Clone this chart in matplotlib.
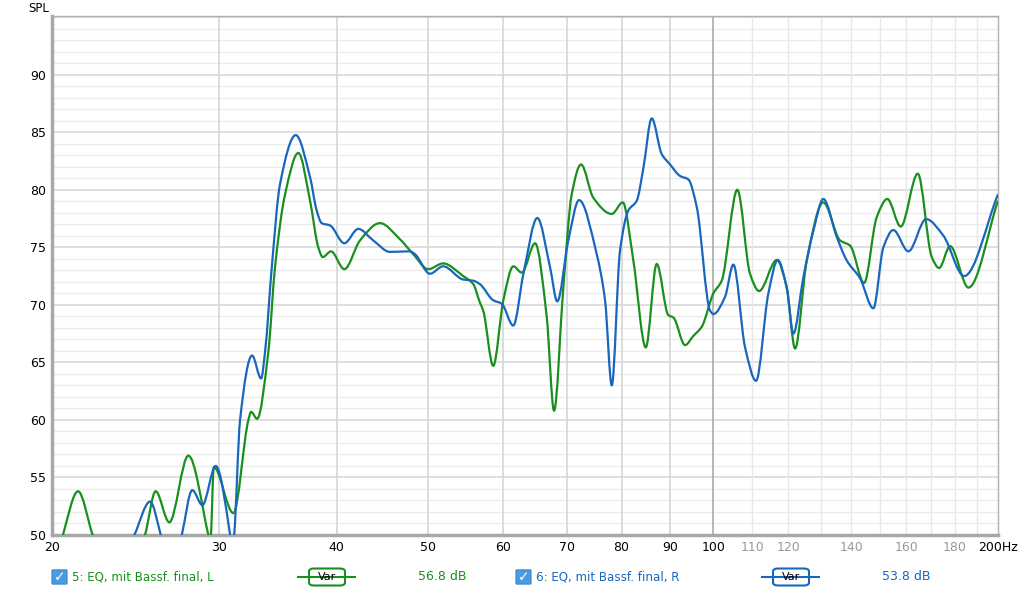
import numpy as np
import matplotlib.pyplot as plt
from matplotlib.patches import FancyBboxPatch, PathPatch
from matplotlib.path import Path

freq_l = [20.0, 20.54, 21.31, 22.08, 23.5, 25.08, 25.74, 26.61, 27.87, 29.26, 29.35,
          29.44, 29.65, 31.10, 32.26, 32.47, 32.95, 33.87, 34.42, 35.27, 36.43, 37.48,
          38.24, 38.66, 39.44, 40.74, 42.33, 44.43, 46.65, 48.19, 49.97, 51.82, 54.42,
          55.76, 56.67, 57.13, 58.54, 60.0, 61.47, 62.75, 64.82, 66.67, 67.88, 69.43,
          70.86, 72.49, 74.69, 78.12, 80.24, 82.33, 84.86, 87.15, 89.66, 90.76, 93.37,
          95.28, 97.25, 100.04, 102.09, 106.05, 109.37, 111.81, 116.74, 119.59, 122.04,
          125.57, 130.73, 136.17, 139.54, 144.37, 148.85, 152.78, 157.83, 164.52,
          170.23, 173.29, 177.99, 186.09, 200.0]
spl_l = [46.0, 50.0, 53.8, 50.0, 44.0, 50.0, 53.8, 51.1, 56.9, 50.0, 49.5,
         50.0, 55.9, 51.9, 60.0, 60.7, 60.1, 66.0, 73.3, 79.6, 83.2, 79.05,
         75.0, 74.15, 74.65, 73.1, 75.6, 77.1, 75.7, 74.4, 73.1, 73.6, 72.5,
         71.8, 70.2, 69.5, 64.7, 70.4, 73.35, 72.8, 75.35, 69.0, 60.8, 71.5,
         79.6, 82.2, 79.3, 77.9, 78.9, 73.85, 66.3, 73.55, 69.1, 68.9, 66.5,
         67.3, 68.1, 71.0, 72.1, 80.0, 72.7, 71.2, 73.9, 71.5, 66.2,
         73.85, 78.9, 75.6, 75.15, 71.9, 77.6, 79.2, 76.8, 81.4,
         74.15, 73.2, 75.1, 71.5, 79.05]

# measurement R (blue)
freq_r = [20.0, 22.5, 24.44, 25.39, 26.06, 26.7, 27.43, 28.14, 28.84, 29.79, 30.85,
          31.0, 31.16, 31.61, 32.55, 33.27, 33.60, 34.15, 34.84, 36.20, 37.48, 38.09,
          38.56, 39.35, 40.74, 42.15, 43.71, 45.53, 47.80, 48.39, 50.18, 51.82, 54.42,
          55.76, 56.67, 58.54, 59.76, 61.47, 63.0, 65.17, 67.21, 68.41, 70.28, 72.14,
          75.31, 76.85, 78.12, 79.70, 81.34, 83.02, 84.37, 86.10, 88.22, 90.03, 92.24,
          94.12, 96.07, 99.24, 100.04, 102.92, 105.03, 108.06, 110.99, 114.37, 117.01,
          119.59, 121.53, 124.53, 127.61, 130.73, 135.08, 138.42, 142.96, 147.66,
          151.31, 155.02, 160.81, 167.89, 175.13, 184.17, 200.0]
spl_r = [44.0, 44.0, 50.0, 52.9, 50.0, 46.0, 50.0, 53.9, 52.6, 56.0, 50.0,
         48.5, 50.0, 60.0, 65.6, 63.6, 66.0, 73.3, 80.5, 84.75, 81.1, 78.2,
         77.1, 76.9, 75.35, 76.6, 75.6, 74.6, 74.65, 74.4, 72.7, 73.35, 72.2,
         72.1, 71.8, 70.4, 70.1, 68.2, 72.7, 77.55, 73.3, 70.3, 75.6, 79.1,
         74.4, 70.4, 63.0, 74.7, 78.2, 79.05, 81.9, 86.2, 83.1, 82.2, 81.2,
         80.9, 78.5, 69.5, 69.2, 70.7, 73.5, 66.3, 63.4, 71.0, 73.9,
         71.5, 67.5, 72.4, 76.45, 79.2, 75.9, 73.85, 72.3, 69.7,
         75.0, 76.5, 74.65, 77.45, 76.0, 72.5, 79.6]

xticks = [20, 30, 40, 50, 60, 70, 80, 90, 100, 110, 120, 140, 160, 180, 200]
xticklabels = ['20', '30', '40', '50', '60', '70', '80', '90', '100',
               '110', '120', '140', '160', '180', '200Hz']
yticks = [50, 55, 60, 65, 70, 75, 80, 85, 90]

green = '#19901e'
blue = '#1867bd'


def smooth_path(freq, spl):
    # draw the read points as a smooth (monotone hermite) bezier curve, log-x
    x = np.log10(freq)
    y = np.asarray(spl, float)
    h = np.diff(x)
    d = np.diff(y) / h
    m = np.zeros_like(y)
    m[0], m[-1] = d[0], d[-1]
    for k in range(1, len(y) - 1):
        if d[k - 1] * d[k] > 0:
            w1 = 2 * h[k] + h[k - 1]
            w2 = h[k] + 2 * h[k - 1]
            m[k] = (w1 + w2) / (w1 / d[k - 1] + w2 / d[k])
    verts = [(x[0], y[0])]
    for k in range(len(h)):
        verts.append((x[k] + h[k] / 3, y[k] + m[k] * h[k] / 3))
        verts.append((x[k + 1] - h[k] / 3, y[k + 1] - m[k + 1] * h[k] / 3))
        verts.append((x[k + 1], y[k + 1]))
    verts = [(10 ** a, b) for a, b in verts]
    codes = [Path.MOVETO] + [Path.CURVE4] * (3 * len(h))
    return Path(verts, codes)


fig = plt.figure(figsize=(10.24, 5.94), dpi=100)
ax = fig.add_axes([52 / 1024, 59 / 594, 946 / 1024, 519 / 594])
ax.set_xscale('log')
ax.set_xlim(20, 200)
ax.set_ylim(50, 95.1)

# grid
for v in range(51, 96):
    if v % 5:
        ax.axhline(v, color='#ececec', lw=1.0, zorder=0)
    else:
        ax.axhline(v, color='#d9d9d9', lw=1.2, zorder=0)
for f in range(30, 200, 10):
    if f < 100:
        c, w = '#d6d6d6', 1.2
    elif f == 100:
        c, w = '#aaaaaa', 1.2
    else:
        c, w = '#e8e8e8', 1.0
    ax.axvline(f, color=c, lw=w, zorder=0)

ax.add_patch(PathPatch(smooth_path(freq_l, spl_l), fill=False, ec=green, lw=1.6,
                       joinstyle='round', zorder=3))
ax.add_patch(PathPatch(smooth_path(freq_r, spl_r), fill=False, ec=blue, lw=1.6,
                       joinstyle='round', zorder=4))

ax.set_xticks(xticks)
ax.set_xticklabels(xticklabels)
ax.minorticks_off()
ax.set_yticks(yticks)
ax.tick_params(length=0, labelsize=9, pad=4)
for lab, f in zip(ax.get_xticklabels(), xticks):
    lab.set_color('#999999' if 100 < f < 200 else 'black')

for s in ax.spines.values():
    s.set_color('#b0b0b0')
    s.set_linewidth(1.0)
ax.spines['left'].set_linewidth(2.5)
ax.spines['bottom'].set_linewidth(2.5)
ax.spines['left'].set_color('#a8a8a8')
ax.spines['bottom'].set_color('#a8a8a8')

fig.text(28 / 1024, 1 - 9 / 594, 'SPL', fontsize=8.5, va='center', ha='left')


def legend_entry(x0, label, value, color, var_x, val_x):
    yy = 1 - 577 / 594
    box = FancyBboxPatch((x0 / 1024, yy - 6.5 / 594), 13 / 1024, 13 / 594,
                         boxstyle='round,pad=0.001', transform=fig.transFigure,
                         fc='#4a9be0', ec='#3a86cc', lw=0.8)
    fig.patches.append(box)
    fig.text((x0 + 6.5) / 1024, yy, '\u2713', color='white', fontsize=10,
             ha='center', va='center', fontweight='bold')
    fig.text((x0 + 19) / 1024, yy, label, color=color, fontsize=8.6, va='center')
    fig.lines.append(plt.Line2D([var_x / 1024, (var_x + 57) / 1024], [yy, yy],
                                color=color, lw=1.5, transform=fig.transFigure))
    vb = FancyBboxPatch(((var_x + 11) / 1024, yy - 8.5 / 594), 36 / 1024, 17 / 594,
                        boxstyle='round,pad=0,rounding_size=0.005',
                        transform=fig.transFigure, fc='white', ec=color, lw=1.5)
    fig.patches.append(vb)
    fig.text((var_x + 29) / 1024, yy, 'Var', fontsize=8, ha='center', va='center')
    fig.text(val_x / 1024, yy, value, color=color, fontsize=9, va='center')


legend_entry(53, '5: EQ, mit Bassf. final, L', '56.8 dB', green, 298, 418)
legend_entry(517, '6: EQ, mit Bassf. final, R', '53.8 dB', blue, 762, 882)

fig.savefig('out.png', dpi=100)
